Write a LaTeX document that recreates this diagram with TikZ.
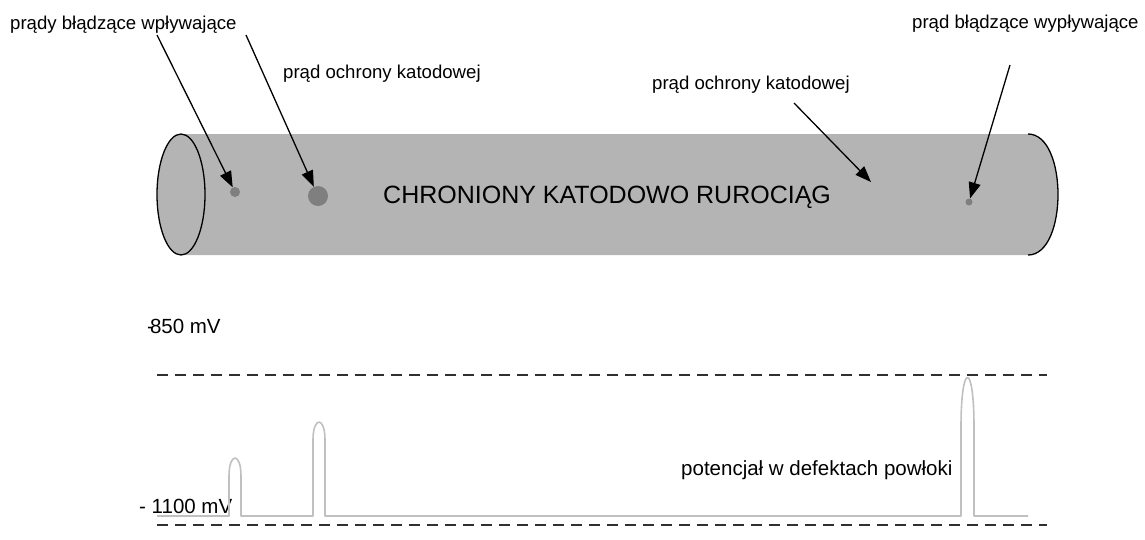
\documentclass[tikz,border=0pt]{standalone}
\usepackage{fontspec}
\setmainfont{Liberation Sans}
\usetikzlibrary{arrows.meta}

\definecolor{pipegray}{HTML}{B4B4B4}
\definecolor{dotgray}{HTML}{7F7F7F}
\definecolor{wavegray}{HTML}{C0C0C0}
\definecolor{dashgray}{HTML}{303030}

\tikzset{
  label/.style={inner sep=0pt, anchor=base west, font=\fontsize{18.6}{22}\selectfont},
  axislabel/.style={inner sep=0pt, anchor=base west, font=\fontsize{20.5}{24}\selectfont},
  title/.style={inner sep=0pt, anchor=base west, font=\fontsize{25}{30}\selectfont},
  defect/.style={circle, fill=dotgray, inner sep=0pt, minimum size=#1},
  pointer/.style={draw=black, line width=1.3pt, -{Triangle[length=16pt,width=12pt]}},
  level/.style={draw=dashgray, line width=1.5pt, dash pattern=on 11pt off 7pt},
  wave/.style={draw=wavegray, line width=1.6pt, line join=round}
}

\begin{document}
\begin{tikzpicture}[x=1pt, y=-1pt]
  \useasboundingbox (0,0) rectangle (1145,539);

  % pipe body
  \fill[pipegray] (181,134) -- (1028,134)
      .. controls (1068,134) and (1068,255) .. (1028,255) -- (181,255) -- cycle;
  \draw[line width=1.3pt] (1028,134) .. controls (1068,134) and (1068,255) .. (1028,255);
  \draw[line width=1.3pt, fill=pipegray] (181,194.5) ellipse [x radius=24, y radius=60.5];

  \node[title] (pipe) at (383,203) {CHRONIONY KATODOWO RUROCIĄG};

  % coating defects
  \node[defect=10pt] (d1) at (235,192) {};
  \node[defect=20pt] (d2) at (318,196) {};
  \node[defect=7pt]  (d3) at (969,202) {};

  % labels
  \node[label] (inflow)  at (10,29)  {prądy błądzące wpływające};
  \node[label] (cp1)     at (283,78) {prąd ochrony katodowej};
  \node[label] (cp2)     at (652,89) {prąd ochrony katodowej};
  \node[label] (outflow) at (912,28) {prąd błądzące wypływające};

  % pointers
  \coordinate (s1) at (157,35);
  \coordinate (s2) at (246,35);
  \coordinate (s3) at (794,103);
  \coordinate (t3) at (871,182);
  \coordinate (s4) at (1010,65);
  \draw[pointer] (s1) -- (d1);
  \draw[pointer] (s2) -- (d2);
  \draw[pointer] (s3) -- (t3);
  \draw[pointer] (s4) -- (d3);

  % potential levels
  \node[axislabel] (u850)  at (147,333) {-\kern-4pt850 mV};
  \node[axislabel] (u1100) at (139,513) {- 1100 mV};
  \coordinate (l1a) at (157,375);
  \coordinate (l1b) at (1047,375);
  \coordinate (l2a) at (157,525);
  \coordinate (l2b) at (1047,525);
  \draw[level] (l1a) -- (l1b);
  \draw[level] (l2a) -- (l2b);

  % potential at coating defects
  \draw[wave] (157,516) -- (229,516) -- (229,476)
      .. controls (229,452) and (241,452) .. (241,476) -- (241,516)
      -- (313,516) -- (313,440)
      .. controls (313,416) and (325,416) .. (325,440) -- (325,516)
      -- (961,516) -- (961,427)
      .. controls (961,361) and (974,361) .. (974,427) -- (974,516)
      -- (1028,516);
  \node[axislabel] (pot) at (681,475) {potencjał w defektach powłoki};
\end{tikzpicture}
\end{document}
